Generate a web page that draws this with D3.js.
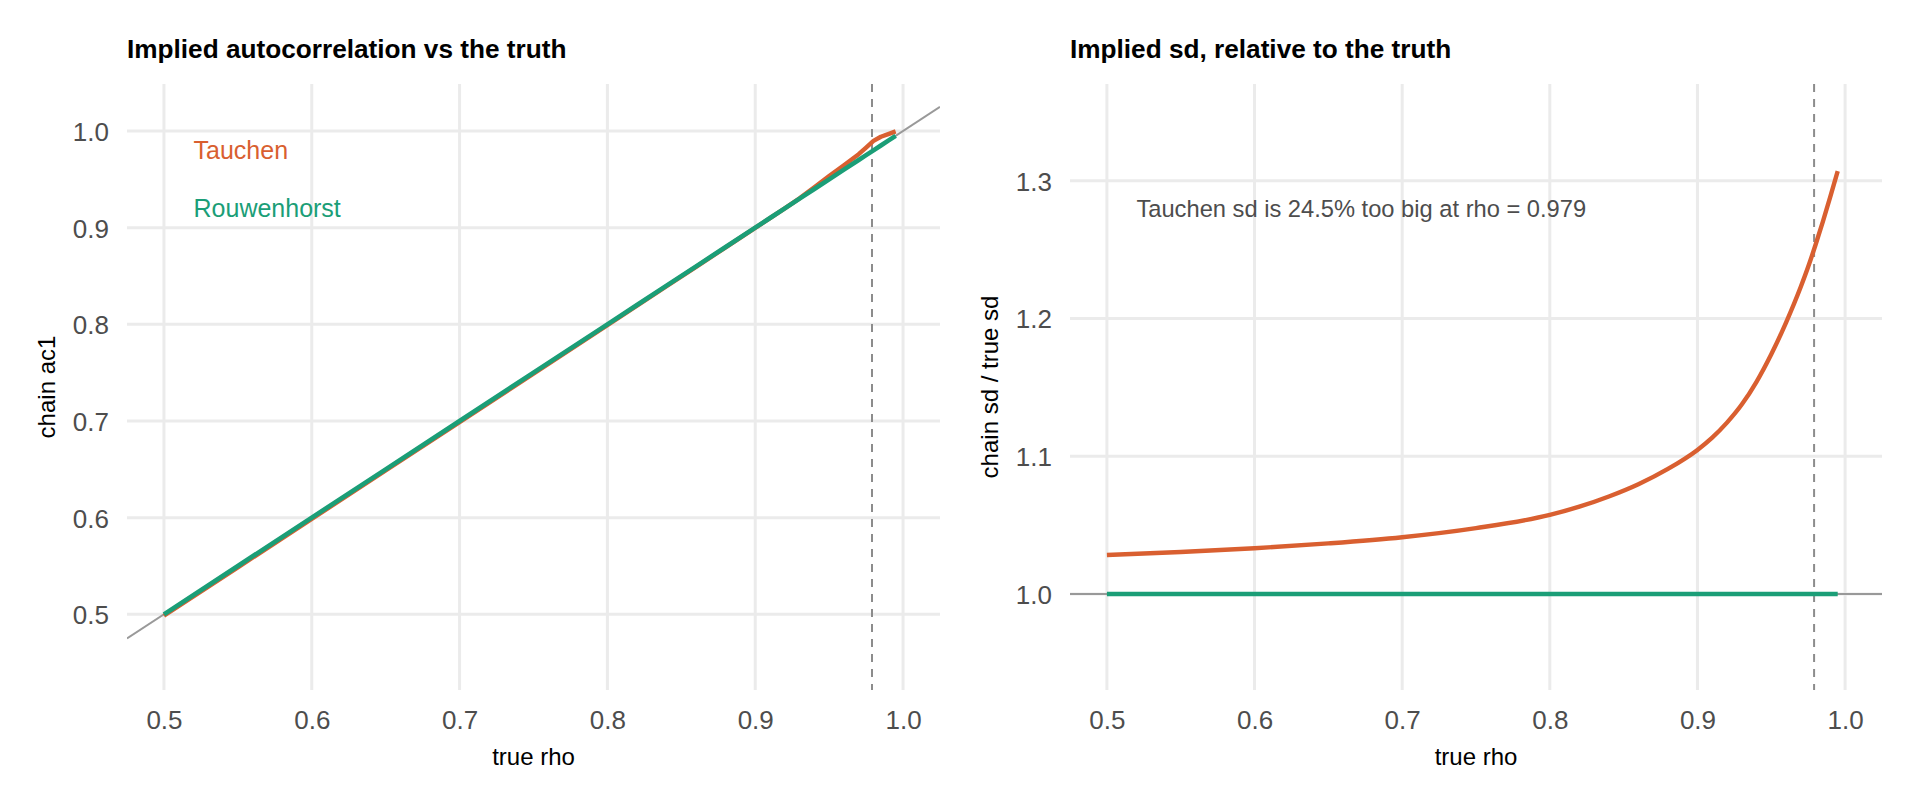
<!DOCTYPE html>
<html>
<head>
<meta charset="utf-8">
<script src="https://cdn.jsdelivr.net/npm/d3@7"></script>
<style>
  html, body { margin: 0; padding: 0; background: #ffffff; }
  svg { display: block; font-family: "Liberation Sans", Arial, Helvetica, sans-serif; }
</style>
</head>
<body>
<svg id="chart" width="1920" height="806"></svg>
<script>
// ---- data ----
const rho = [0.50, 0.55, 0.60, 0.65, 0.70, 0.75, 0.80, 0.82, 0.84, 0.86, 0.88, 0.90, 0.91, 0.92, 0.93, 0.94, 0.95, 0.96, 0.97, 0.975, 0.98, 0.985, 0.99, 0.995];
const tauchenAc1 = [0.4985, 0.5486, 0.5987, 0.6488, 0.6989, 0.7490, 0.7992, 0.8193, 0.8394, 0.8595, 0.8796, 0.8998, 0.9099, 0.9200, 0.9303, 0.9418, 0.9535, 0.9645, 0.9760, 0.9828, 0.9897, 0.9940, 0.9968, 0.9996];
const rouwenhorstAc1 = [0.50, 0.55, 0.60, 0.65, 0.70, 0.75, 0.80, 0.82, 0.84, 0.86, 0.88, 0.90, 0.91, 0.92, 0.93, 0.94, 0.95, 0.96, 0.97, 0.975, 0.98, 0.985, 0.99, 0.995];
const tauchenSd = [1.0283, 1.0305, 1.0332, 1.0367, 1.0412, 1.0478, 1.0574, 1.0634, 1.0708, 1.0797, 1.0908, 1.1046, 1.1135, 1.1244, 1.1375, 1.1540, 1.1740, 1.1970, 1.2230, 1.2375, 1.2535, 1.2705, 1.2885, 1.3070];
const rouwenhorstSd = [1, 1, 1, 1, 1, 1, 1, 1, 1, 1, 1, 1, 1, 1, 1, 1, 1, 1, 1, 1, 1, 1, 1, 1];
const xTicks = [0.5, 0.6, 0.7, 0.8, 0.9, 1.0];
const yTicksLeft = [0.5, 0.6, 0.7, 0.8, 0.9, 1.0];
const yTicksRight = [1.0, 1.1, 1.2, 1.3];
const markedRho = 0.979;
const titles = ["Implied autocorrelation vs the truth", "Implied sd, relative to the truth"];
const yTitles = ["chain ac1", "chain sd / true sd"];
const xTitle = "true rho";
const seriesNames = ["Tauchen", "Rouwenhorst"];
const annotationText = "Tauchen sd is 24.5% too big at rho = 0.979";

// ---- styles ----
const colTauchen = "#D95F30";
const colRouw = "#1B9E77";
const gridCol = "#EBEBEB";
const tickCol = "#4D4D4D";

const svg = d3.select("#chart");
svg.append("rect").attr("width", 1920).attr("height", 806).attr("fill", "#fff");

const panelTop = 84, panelBottom = 690;
const panels = [
  { left: 127, right: 940, yDomain: [0.4217, 1.0486], yTicks: yTicksLeft },
  { left: 1070, right: 1882, yDomain: [0.9303, 1.3702], yTicks: yTicksRight }
];

panels.forEach((p, i) => {
  p.x = d3.scaleLinear().domain([0.475, 1.025]).range([p.left, p.right]);
  p.y = d3.scaleLinear().domain(p.yDomain).range([panelBottom, panelTop]);
  const g = svg.append("g");
  p.g = g;
  const clipId = "clip" + i;
  svg.append("clipPath").attr("id", clipId).append("rect")
    .attr("x", p.left).attr("y", panelTop)
    .attr("width", p.right - p.left).attr("height", panelBottom - panelTop);
  p.clip = "url(#" + clipId + ")";

  // grid
  g.selectAll(".vg").data(xTicks).join("line")
    .attr("x1", d => p.x(d)).attr("x2", d => p.x(d))
    .attr("y1", panelTop).attr("y2", panelBottom)
    .attr("stroke", gridCol).attr("stroke-width", 3);
  g.selectAll(".hg").data(p.yTicks).join("line")
    .attr("class", "hg")
    .attr("x1", p.left).attr("x2", p.right)
    .attr("y1", d => p.y(d)).attr("y2", d => p.y(d))
    .attr("stroke", gridCol).attr("stroke-width", 3);

  // axes (labels only)
  const xAxis = d3.axisBottom(p.x).tickValues(xTicks).tickFormat(d3.format(".1f")).tickSize(0).tickPadding(0);
  const xa = g.append("g").attr("transform", `translate(0,${panelBottom})`).call(xAxis);
  xa.select(".domain").remove();
  xa.selectAll("text").attr("font-size", 26).attr("fill", tickCol)
    .attr("font-family", "Liberation Sans, Arial, sans-serif")
    .attr("dy", null).attr("y", 39);

  const yAxis = d3.axisLeft(p.y).tickValues(p.yTicks).tickFormat(d3.format(".1f")).tickSize(0).tickPadding(0);
  const ya = g.append("g").attr("transform", `translate(${p.left - 18},0)`).call(yAxis);
  ya.select(".domain").remove();
  ya.selectAll("text").attr("font-size", 26).attr("fill", tickCol)
    .attr("font-family", "Liberation Sans, Arial, sans-serif")
    .attr("dy", "0.36em").attr("x", 0);

  // titles
  svg.append("text").attr("x", p.left).attr("y", 58)
    .attr("font-size", 26.2).attr("font-weight", "bold").attr("fill", "#000")
    .text(titles[i]);
  svg.append("text").attr("x", (p.left + p.right) / 2).attr("y", 765)
    .attr("text-anchor", "middle").attr("font-size", 24).attr("fill", "#000")
    .text(xTitle);
  const cy = (panelTop + panelBottom) / 2;
  const cx = p.left - 80;
  svg.append("text").attr("transform", `translate(${cx + 8},${cy}) rotate(-90)`)
    .attr("text-anchor", "middle").attr("font-size", 24).attr("fill", "#000")
    .text(yTitles[i]);
});

// ---- left panel ----
const L = panels[0];
const lg = L.g.append("g").attr("clip-path", L.clip);
lg.append("line")
  .attr("x1", L.x(0.475)).attr("y1", L.y(0.475))
  .attr("x2", L.x(1.025)).attr("y2", L.y(1.025))
  .attr("stroke", "#999999").attr("stroke-width", 2);
lg.append("line")
  .attr("x1", L.x(markedRho)).attr("x2", L.x(markedRho))
  .attr("y1", panelTop).attr("y2", panelBottom)
  .attr("stroke", "#8c8c8c").attr("stroke-width", 2).attr("stroke-dasharray", "8,7");
const lineL = d3.line().x(d => L.x(d[0])).y(d => L.y(d[1]));
lg.append("path").datum(d3.zip(rho, tauchenAc1)).attr("d", lineL)
  .attr("fill", "none").attr("stroke", colTauchen).attr("stroke-width", 4.4).attr("stroke-linejoin", "round");
lg.append("path").datum(d3.zip(rho, rouwenhorstAc1)).attr("d", lineL)
  .attr("fill", "none").attr("stroke", colRouw).attr("stroke-width", 4.6).attr("stroke-linejoin", "round");
L.g.append("text").attr("x", L.x(0.52)).attr("y", L.y(0.98)).attr("dy", "0.35em")
  .attr("font-size", 25).attr("fill", colTauchen).text(seriesNames[0]);
L.g.append("text").attr("x", L.x(0.52)).attr("y", L.y(0.92)).attr("dy", "0.35em")
  .attr("font-size", 25).attr("fill", colRouw).text(seriesNames[1]);

// ---- right panel ----
const R = panels[1];
const rg = R.g.append("g").attr("clip-path", R.clip);
rg.append("line")
  .attr("x1", R.left).attr("x2", R.right)
  .attr("y1", R.y(1)).attr("y2", R.y(1))
  .attr("stroke", "#999999").attr("stroke-width", 2);
rg.append("line")
  .attr("x1", R.x(markedRho)).attr("x2", R.x(markedRho))
  .attr("y1", panelTop).attr("y2", panelBottom)
  .attr("stroke", "#8c8c8c").attr("stroke-width", 2).attr("stroke-dasharray", "8,7");
const lineR = d3.line().x(d => R.x(d[0])).y(d => R.y(d[1])).curve(d3.curveMonotoneX);
rg.append("path").datum(d3.zip(rho, tauchenSd)).attr("d", lineR)
  .attr("fill", "none").attr("stroke", colTauchen).attr("stroke-width", 4.4).attr("stroke-linejoin", "round");
rg.append("path").datum(d3.zip(rho, rouwenhorstSd)).attr("d", lineR)
  .attr("fill", "none").attr("stroke", colRouw).attr("stroke-width", 4.6);
R.g.append("text").attr("x", R.x(0.52)).attr("y", R.y(1.28)).attr("dy", "0.35em")
  .attr("font-size", 23.7).attr("fill", "#4D4D4D").text(annotationText);
</script>
</body>
</html>
